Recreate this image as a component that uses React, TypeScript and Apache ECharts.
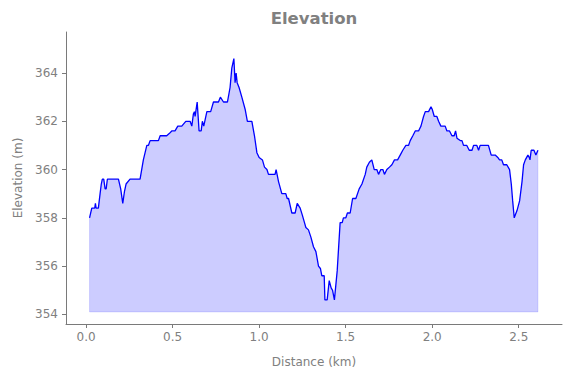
import React, { useEffect, useRef } from "react";
import * as echarts from "echarts";

const distanceKm = [
  0.02, 0.033, 0.05, 0.054, 0.058, 0.071, 0.081, 0.088, 0.094, 0.102, 0.11, 0.116, 0.123, 0.187, 0.2, 0.212,
  0.222, 0.231, 0.254, 0.312, 0.331, 0.351, 0.36, 0.37, 0.418, 0.428, 0.466, 0.482, 0.495, 0.514, 0.53, 0.553,
  0.576, 0.601, 0.611, 0.62, 0.626, 0.63, 0.642, 0.653, 0.665, 0.672, 0.68, 0.698, 0.72, 0.736, 0.765, 0.776,
  0.794, 0.817, 0.832, 0.842, 0.854, 0.861, 0.867, 0.873, 0.884, 0.9, 0.919, 0.932, 0.958, 0.973, 0.987, 1.0,
  1.019, 1.031, 1.045, 1.054, 1.092, 1.098, 1.112, 1.131, 1.154, 1.162, 1.17, 1.189, 1.208, 1.22, 1.237, 1.25,
  1.262, 1.27, 1.285, 1.299, 1.314, 1.328, 1.343, 1.354, 1.362, 1.376, 1.38, 1.393, 1.405, 1.416, 1.424, 1.435,
  1.451, 1.468, 1.48, 1.487, 1.501, 1.51, 1.526, 1.54, 1.559, 1.578, 1.594, 1.613, 1.622, 1.637, 1.651, 1.665,
  1.68, 1.69, 1.703, 1.715, 1.724, 1.738, 1.753, 1.767, 1.782, 1.8, 1.815, 1.83, 1.848, 1.863, 1.873, 1.888,
  1.902, 1.921, 1.935, 1.95, 1.96, 1.979, 1.993, 2.0, 2.012, 2.027, 2.037, 2.05, 2.075, 2.085, 2.1, 2.114,
  2.127, 2.135, 2.143, 2.162, 2.172, 2.181, 2.2, 2.214, 2.23, 2.239, 2.258, 2.268, 2.277, 2.325, 2.341, 2.364,
  2.379, 2.389, 2.402, 2.412, 2.431, 2.447, 2.457, 2.465, 2.474, 2.49, 2.505, 2.519, 2.528, 2.538, 2.553, 2.561,
  2.565, 2.572, 2.588, 2.599, 2.611,
];

const elevationM = [
  358.0, 358.4, 358.4, 358.6, 358.4, 358.4, 359.0, 359.4, 359.6, 359.6, 359.2, 359.2, 359.6, 359.6, 359.2, 358.6,
  359.1, 359.4, 359.6, 359.6, 360.4, 361.0, 361.0, 361.2, 361.2, 361.4, 361.4, 361.5, 361.6, 361.6, 361.8, 361.8,
  362.0, 362.0, 361.8, 362.3, 362.4, 362.2, 362.8, 361.6, 361.6, 362.0, 361.8, 362.4, 362.4, 362.8, 362.8, 363.0,
  362.8, 362.8, 363.4, 364.2, 364.6, 363.6, 364.0, 363.6, 363.4, 363.0, 362.5, 362.0, 362.0, 361.4, 360.7, 360.5,
  360.4, 360.1, 360.0, 359.8, 359.8, 360.0, 359.5, 359.0, 359.0, 358.8, 358.8, 358.2, 358.2, 358.6, 358.4, 358.1,
  357.8, 357.6, 357.5, 357.2, 356.8, 356.6, 356.0, 355.9, 355.6, 355.6, 354.6, 354.6, 355.4, 355.1, 355.0, 354.6,
  355.8, 357.8, 357.8, 358.0, 358.0, 358.2, 358.2, 358.8, 358.8, 359.2, 359.4, 359.8, 360.1, 360.3, 360.4, 360.0,
  360.0, 359.8, 360.0, 360.0, 359.8, 360.0, 360.1, 360.2, 360.4, 360.4, 360.6, 360.8, 361.0, 361.0, 361.2, 361.4,
  361.6, 361.6, 361.8, 362.2, 362.4, 362.4, 362.6, 362.5, 362.2, 362.2, 362.0, 361.8, 361.8, 361.6, 361.6, 361.4,
  361.4, 361.6, 361.3, 361.2, 361.2, 361.0, 361.0, 360.8, 360.8, 361.0, 361.0, 360.8, 361.0, 361.0, 360.6, 360.6,
  360.5, 360.4, 360.4, 360.2, 360.2, 360.0, 359.4, 358.7, 358.0, 358.3, 358.7, 359.5, 360.2, 360.4, 360.6, 360.5,
  360.4, 360.8, 360.8, 360.6, 360.8,
];

const fillBase = 354.1;
const xTicks = [0, 0.5, 1.0, 1.5, 2.0, 2.5];
const yTicks = [354, 356, 358, 360, 362, 364];
const titleText = "Elevation";

const GRAY = "#808080";
const AXIS = "#7a7a7a";

export default function App() {
  const ref = useRef<HTMLDivElement>(null);
  useEffect(() => {
    if (!ref.current) return;
    const chart = echarts.init(ref.current, undefined, { renderer: "svg" });
    const pts = distanceKm.map((d, i) => [d, elevationM[i]]);
    const n = pts.length;
    const edge = [
      [distanceKm[0], elevationM[0]],
      [distanceKm[0], fillBase],
      [distanceKm[n - 1], fillBase],
      [distanceKm[n - 1], elevationM[n - 1]],
    ];
    chart.setOption({
      animation: false,
      graphic: [
        {
          type: "text",
          x: 314,
          y: 18.5,
          style: {
            text: titleText,
            textAlign: "center",
            textVerticalAlign: "middle",
            fontFamily: "DejaVu Sans",
            fontSize: 16.5,
            fontWeight: "bold",
            fill: GRAY,
          },
        },
      ],
      grid: { left: 66, right: 9, top: 32, bottom: 54, containLabel: false },
      xAxis: {
        type: "value",
        min: -0.116,
        max: 2.75,
        name: "Distance (km)",
        nameLocation: "middle",
        nameGap: 32,
        nameTextStyle: { fontFamily: "DejaVu Sans", fontSize: 12, color: GRAY },
        axisLine: { show: true, onZero: false, lineStyle: { color: AXIS, width: 1 } },
        axisTick: { show: true, length: 4, customValues: xTicks, lineStyle: { color: AXIS } },
        axisLabel: {
          customValues: xTicks,
          formatter: (v: number) => v.toFixed(1),
          fontFamily: "DejaVu Sans",
          fontSize: 12,
          color: GRAY,
          margin: 7,
        },
        splitLine: { show: false },
      },
      yAxis: {
        type: "value",
        min: 353.6,
        max: 365.7,
        name: "Elevation (m)",
        nameLocation: "middle",
        nameGap: 42,
        nameTextStyle: { fontFamily: "DejaVu Sans", fontSize: 12, color: GRAY },
        axisLine: { show: true, onZero: false, lineStyle: { color: AXIS, width: 1 } },
        axisTick: { show: true, length: 4, customValues: yTicks, lineStyle: { color: AXIS } },
        axisLabel: {
          customValues: yTicks,
          fontFamily: "DejaVu Sans",
          fontSize: 12,
          color: GRAY,
          margin: 8,
        },
        splitLine: { show: false },
      },
      series: [
        {
          type: "line",
          data: pts,
          symbol: "none",
          lineStyle: { color: "rgba(0,0,255,0)", width: 0 },
          areaStyle: { color: "rgba(0,0,255,0.2)", opacity: 1, origin: fillBase },
          z: 1,
          silent: true,
        },
        {
          type: "line",
          data: edge,
          symbol: "none",
          lineStyle: { color: "rgba(0,0,255,0.12)", width: 1 },
          z: 2,
          silent: true,
        },
        {
          type: "line",
          data: pts,
          symbol: "none",
          lineStyle: { color: "#0000ff", width: 1.3 },
          z: 3,
          silent: true,
        },
      ],
    });
    return () => chart.dispose();
  }, []);
  return <div ref={ref} style={{ width: 571, height: 378, position: "absolute", left: 0, top: 0 }} />;
}
